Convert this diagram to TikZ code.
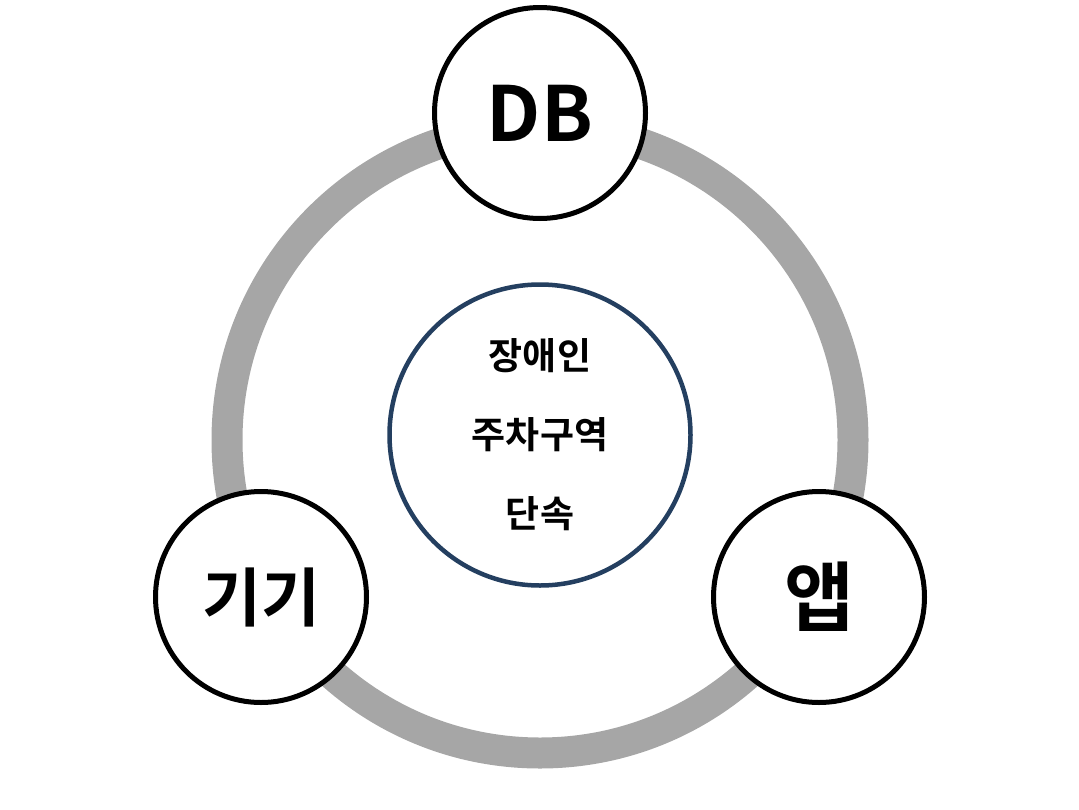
\documentclass[tikz,border=0pt]{standalone}
\usepackage{fontspec}
\newfontfamily\kofont{Noto Sans CJK KR Bold}
\definecolor{ringgray}{HTML}{A6A6A6}
\definecolor{navy}{HTML}{243F60}
\tikzset{
  part/.style={circle, draw=black, line width=5pt, fill=white, minimum size=211pt,
    inner sep=0pt, font=\kofont\fontsize{64}{70}\selectfont},
  core/.style={circle, draw=navy, line width=4.5pt, fill=white, minimum size=301pt,
    inner sep=0pt, align=center, font=\kofont\fontsize{37}{79}\selectfont}
}
\begin{document}
\begin{tikzpicture}[x=1pt, y=-1pt]
  \useasboundingbox (0, 0) rectangle (1079, 809);

  \draw[color=ringgray, line width=31pt] (540, 440) circle (313);

  \node[core] (center) at (540, 435) {장애인\\주차구역\\단속};

  \node[part, font=\kofont\fontsize{76}{80}\selectfont] (db) at (540, 113) {DB};
  \node[part] (device) at (261, 597) {기기};
  \node[part, font=\kofont\fontsize{76}{80}\selectfont] (app) at (819, 597) {앱};

\end{tikzpicture}
\end{document}
